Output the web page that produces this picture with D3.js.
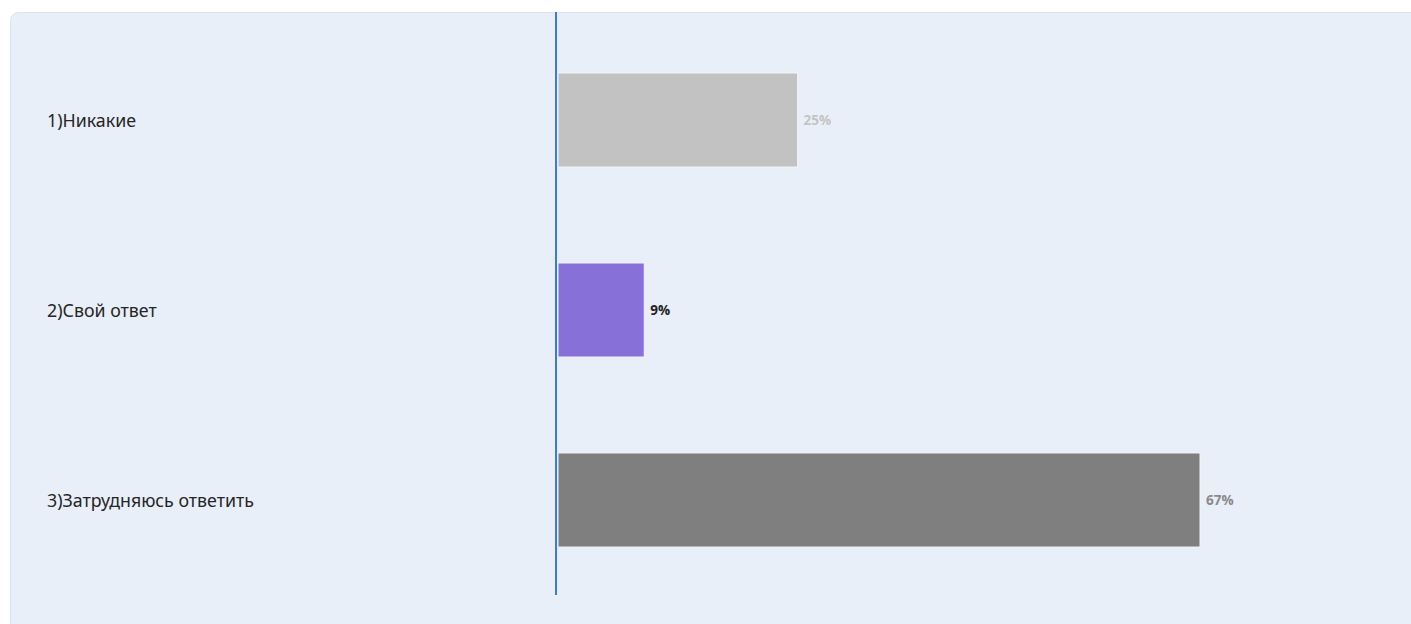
<!DOCTYPE html>
<html>
<head>
<meta charset="utf-8">
<script src="https://cdn.jsdelivr.net/npm/d3@7"></script>
<style>
    html, body { margin: 0; padding: 0; background: #ffffff; }
    body { width: 1411px; height: 624px; overflow: hidden; }
    svg { display: block; }
</style>
</head>
<body>
<script>
var width = 1411;
var height = 624;

var categories = ["1)Никакие", "2)Свой ответ", "3)Затрудняюсь ответить"];
var values = [25, 9, 67];
var labels = ["25%", "9%", "67%"];
var barColors = ["#c2c2c2", "#8770d7", "#7f7f7f"];
var labelColors = ["#c4c4c4", "#222222", "#8a8a8a"];

var data = categories.map((c, i) => ({
    name: c,
    value: values[i],
    label: labels[i],
    color: barColors[i],
    labelColor: labelColors[i],
}));

var x = d3.scaleLinear().domain([0, 67]).range([558, 1200]);
var y = d3.scaleBand()
    .domain(categories)
    .range([25, 595])
    .paddingInner(0.505)
    .paddingOuter(0.2525)
;

var svg = d3.select("body")
    .append("svg")
    .attr("width", width)
    .attr("height", height)
;

// panel
svg.append("rect")
    .attr("x", 10.5)
    .attr("y", 12.5)
    .attr("width", width + 20)
    .attr("height", height + 20)
    .attr("rx", 8)
    .attr("fill", "#e9eff9")
    .attr("stroke", "#dde3ec")
;

var bars = svg.append("g").attr("class", "bars");

bars.selectAll("rect")
    .data(data)
    .enter().append("rect")
    .attr("x", x(0))
    .attr("y", d => y(d.name))
    .attr("width", d => x(d.value) - x(0))
    .attr("height", y.bandwidth())
    .attr("fill", d => d.color)
    .attr("stroke", "#f2f4f8")
    .attr("stroke-width", 1)
;

bars.selectAll("text.value")
    .data(data)
    .enter().append("text")
    .attr("class", "value")
    .attr("x", d => x(d.value) + 6)
    .attr("y", d => y(d.name) + y.bandwidth() / 2)
    .attr("dy", "0.35em")
    .attr("fill", d => d.labelColor)
    .style("font-family", "'Open Sans', 'Noto Sans', sans-serif")
    .style("font-size", "13.5px")
    .style("font-weight", "bold")
    .text(d => d.label)
;

// category labels
svg.append("g")
    .attr("class", "cats")
    .selectAll("text")
    .data(data)
    .enter().append("text")
    .attr("x", 47)
    .attr("y", d => y(d.name) + y.bandwidth() / 2 + 1)
    .attr("dy", "0.35em")
    .attr("fill", "#252525")
    .style("font-family", "'Noto Sans', 'Open Sans', sans-serif")
    .style("font-size", "17.8px")
    .text(d => d.name)
;

// axis line
svg.append("line")
    .attr("x1", x(0) - 2)
    .attr("x2", x(0) - 2)
    .attr("y1", 12)
    .attr("y2", 595)
    .attr("stroke", "#3b7dc8")
    .attr("stroke-width", 2)
;
</script>
</body>
</html>
